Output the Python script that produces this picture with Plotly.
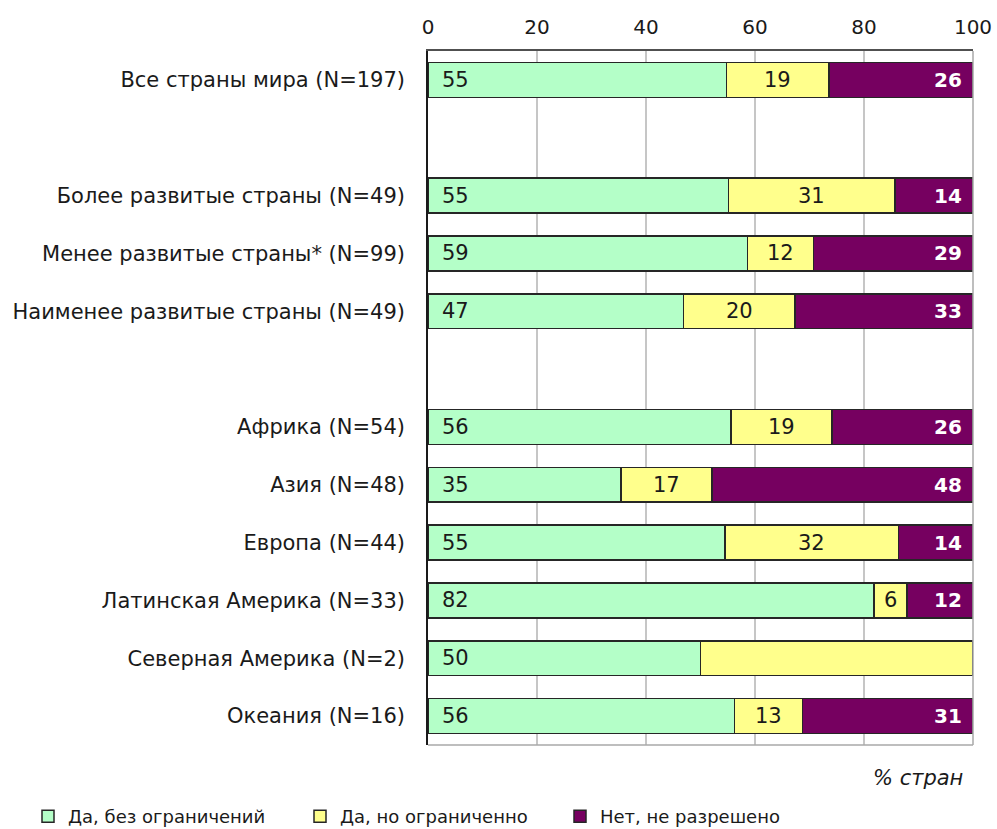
import plotly.graph_objects as go

# ---- data ----
categories = [
    "Все страны мира (N=197)",
    "",
    "Более развитые страны (N=49)",
    "Менее развитые страны* (N=99)",
    "Наименее развитые страны (N=49)",
    "",
    "Африка (N=54)",
    "Азия (N=48)",
    "Европа (N=44)",
    "Латинская Америка (N=33)",
    "Северная Америка (N=2)",
    "Океания (N=16)",
]
yes_free = [54.8, None, 55.1, 58.6, 46.9, None, 55.6, 35.4, 54.5, 81.8, 50.0, 56.25]
yes_limited = [18.8, None, 30.6, 12.1, 20.4, None, 18.5, 16.7, 31.8, 6.1, 50.0, 12.5]
not_allowed = [26.4, None, 14.3, 29.3, 32.7, None, 25.9, 47.9, 13.7, 12.1, 0.0, 31.25]
hide_limited_label = ["Северная Америка (N=2)"]

series_names = ["Да, без ограничений", "Да, но ограниченно", "Нет, не разрешено"]
x_ticks = [0, 20, 40, 60, 80, 100]
axis_note = "% стран"

# ---- style ----
FONT = "DejaVu Sans"
colors = ["#B4FFC8", "#FFFF8C", "#760060"]
outline = "#262626"

pos = list(range(len(categories)))
label_pos = [i for i, c in enumerate(categories) if c]
label_txt = [c for c in categories if c]


def lab(v):
    return "" if v is None or v <= 0 else str(int(v + 0.5))


fig = go.Figure()
legend_ids = ["legend", "legend2", "legend3"]
for name, vals, col, lg in zip(series_names, [yes_free, yes_limited, not_allowed], colors, legend_ids):
    fig.add_trace(go.Bar(
        x=vals, y=pos, orientation="h", name=name,
        marker=dict(color=col, line=dict(color=outline, width=1.5)),
        width=0.6, legend=lg, hoverinfo="skip", showlegend=True,
    ))

annotations = []
for i, c in enumerate(categories):
    if not c:
        continue
    f, l, n = yes_free[i], yes_limited[i], not_allowed[i]
    annotations.append(dict(x=0, y=i, xref="x", yref="y", text=lab(f), showarrow=False,
                            xanchor="left", xshift=12,
                            font=dict(family=FONT, size=21, color="#1a1a1a")))
    if c not in hide_limited_label:
        annotations.append(dict(x=f + l / 2, y=i, xref="x", yref="y", text=lab(l), showarrow=False,
                                xanchor="center",
                                font=dict(family=FONT, size=21, color="#1a1a1a")))
    if n > 0:
        annotations.append(dict(x=f + l + n, y=i, xref="x", yref="y", text="<b>" + lab(n) + "</b>",
                                showarrow=False, xanchor="right", xshift=-9,
                                font=dict(family=FONT, size=20, color="#ffffff")))

annotations.append(dict(x=0.985, y=0, xref="paper", yref="paper", yshift=-33, text="<i>" + axis_note + "</i>",
                        showarrow=False, xanchor="right", yanchor="middle",
                        font=dict(family=FONT, size=21, color="#1a1a1a")))

legend_common = dict(orientation="h", xref="container", yref="container", y=(829 - 798) / 829, yanchor="top",
                     font=dict(family=FONT, size=18, color="#1a1a1a"), bgcolor="rgba(0,0,0,0)",
                     itemwidth=30, traceorder="normal", visible=True)

fig.update_layout(
    width=997, height=829,
    margin=dict(l=428, r=24, t=51, b=84, autoexpand=False),
    barmode="stack",
    bargap=0.4,
    showlegend=True,
    paper_bgcolor="white", plot_bgcolor="white",
    font=dict(family=FONT, size=20, color="#1a1a1a"),
    xaxis=dict(side="top", range=[0, 100], tickvals=x_ticks, ticktext=[str(t) for t in x_ticks],
               showgrid=True, gridcolor="#c6c6c6", gridwidth=1.5, zeroline=False, automargin=False,
               showline=True, linecolor="#505050", linewidth=1.5, ticks="",
               ticklabelstandoff=7, tickfont=dict(family=FONT, size=20, color="#1a1a1a")),
    yaxis=dict(range=[len(categories) - 0.5, -0.5], tickvals=label_pos, ticktext=label_txt,
               showgrid=False, zeroline=False, showline=True, linecolor="#1a1a1a", linewidth=1.5,
               automargin=False,
               ticks="", ticklabelstandoff=17, tickfont=dict(family=FONT, size=21, color="#1a1a1a")),
    legend=dict(legend_common, x=28 / 997),
    legend2=dict(legend_common, x=300 / 997),
    legend3=dict(legend_common, x=560 / 997),
    annotations=annotations,
    shapes=[
        dict(type="line", xref="paper", yref="paper", x0=1, x1=1, y0=0, y1=1,
             line=dict(color="#a8a8a8", width=1.5)),
        dict(type="line", xref="paper", yref="paper", x0=0, x1=1, y0=0, y1=0,
             line=dict(color="#a8a8a8", width=1.5)),
    ],
)

fig.write_html("out.html", config={"displayModeBar": False},
               post_script="document.body.style.margin='0';")
